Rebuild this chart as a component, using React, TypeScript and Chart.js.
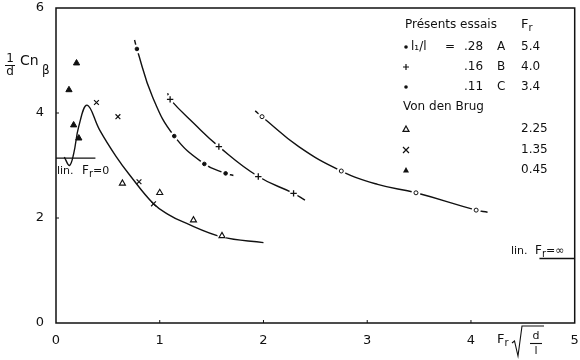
import { useEffect, useRef } from "react";
import { Chart, registerables } from "chart.js";
Chart.register(...registerables);

// ---- data ----
const xTickValues = [0, 1, 2, 3, 4, 5];
const yTickValues = [0, 2, 4, 6];

// Présents essais, A (l1/l = .28, Fr 5.4): open circles
const seriesA = [[1.986, 3.93], [2.75, 2.895], [3.47, 2.48], [4.05, 2.15]];
const curveA = [[1.92, 4.04], [1.986, 3.93], [2.34, 3.36], [2.75, 2.895], [3.1, 2.64], [3.47, 2.48], [4.05, 2.15], [4.16, 2.11]];
// B (l1/l = .16, Fr 4.0): plus
const seriesB = [[1.1, 4.26], [1.57, 3.36], [1.95, 2.79], [2.29, 2.47]];
const curveB = [[1.076, 4.375], [1.1, 4.26], [1.33, 3.8], [1.57, 3.36], [1.95, 2.79], [2.29, 2.47], [2.4, 2.34]];
// C (l1/l = .11, Fr 3.4): dots
const seriesC = [[0.78, 5.22], [1.14, 3.56], [1.43, 3.03], [1.635, 2.85]];
const curveC = [[0.757, 5.39], [0.78, 5.22], [0.93, 4.31], [1.14, 3.56], [1.43, 3.03], [1.635, 2.85], [1.71, 2.81]];
// Van den Brug
const vdbTriOpen = [[0.64, 2.66], [1.0, 2.48], [1.325, 1.96], [1.6, 1.66]]; // Fr 2.25
const vdbCross = [[0.39, 4.2], [0.597, 3.93], [0.8, 2.69], [0.94, 2.27]]; // Fr 1.35
const vdbTriFilled = [[0.125, 4.44], [0.198, 4.95], [0.17, 3.77], [0.22, 3.52]]; // Fr 0.45
const vdbCurve = [[0.08, 3.16], [0.13, 3.0], [0.17, 3.22], [0.22, 3.75], [0.3, 4.15], [0.42, 3.68], [0.58, 3.17], [0.71, 2.82], [0.94, 2.27], [1.08, 2.07], [1.22, 1.93], [1.6, 1.64], [2.0, 1.53]];
const vdbHalo = [[1.6, 1.66]];
// limit lines
const linFr0 = [[0, 3.14], [0.38, 3.14]];
const linFrInf = [[4.66, 1.23], [5.0, 1.23]];

const FONT = "'DejaVu Sans', sans-serif";
const toXY = (arr: number[][]) => arr.map(([x, y]) => ({ x, y }));

function drawMarker(ctx: CanvasRenderingContext2D, kind: string, x: number, y: number) {
  ctx.save();
  ctx.strokeStyle = "#111";
  ctx.fillStyle = "#111";
  ctx.lineWidth = 1.2;
  const r = 3;
  if (kind === "dot") {
    ctx.beginPath(); ctx.arc(x, y, 1.8, 0, Math.PI * 2); ctx.fill();
  } else if (kind === "plus") {
    ctx.beginPath(); ctx.moveTo(x - r, y); ctx.lineTo(x + r, y); ctx.moveTo(x, y - r); ctx.lineTo(x, y + r); ctx.stroke();
  } else if (kind === "cross") {
    ctx.beginPath(); ctx.moveTo(x - r, y - r); ctx.lineTo(x + r, y + r); ctx.moveTo(x + r, y - r); ctx.lineTo(x - r, y + r); ctx.stroke();
  } else if (kind === "tri" || kind === "triF") {
    ctx.beginPath(); ctx.moveTo(x, y - r); ctx.lineTo(x + r, y + r * 0.8); ctx.lineTo(x - r, y + r * 0.8); ctx.closePath();
    if (kind === "triF") ctx.fill(); else ctx.stroke();
  }
  ctx.restore();
}

function drawFr(ctx: CanvasRenderingContext2D, x: number, y: number, size: number) {
  ctx.font = `${size}px ${FONT}`;
  ctx.textAlign = "left";
  ctx.textBaseline = "middle";
  ctx.fillText("F", x, y);
  const w = ctx.measureText("F").width;
  ctx.font = `${Math.round(size * 0.8)}px ${FONT}`;
  ctx.fillText("r", x + w, y + size * 0.25);
  return x + w + ctx.measureText("r").width;
}

const decorPlugin = {
  id: "decor",
  afterDatasetsDraw(chart: any) {
    const ctx: CanvasRenderingContext2D = chart.ctx;
    const { left, right, top, bottom } = chart.chartArea;
    const xs = chart.scales.x;
    const ys = chart.scales.y;
    ctx.save();
    ctx.strokeStyle = "#111";
    ctx.lineWidth = 1.5;
    ctx.strokeRect(left, top, right - left, bottom - top);
    ctx.lineWidth = 1;
    xTickValues.forEach((v) => {
      if (v === 0 || v === 5) return;
      const px = xs.getPixelForValue(v);
      ctx.beginPath(); ctx.moveTo(px, bottom); ctx.lineTo(px, bottom - 3); ctx.stroke();
    });
    yTickValues.forEach((v) => {
      if (v === 0 || v === 6) return;
      const py = ys.getPixelForValue(v);
      ctx.beginPath(); ctx.moveTo(left, py); ctx.lineTo(left + 3, py); ctx.stroke();
    });
    ctx.restore();
  },
  afterDraw(chart: any) {
    const ctx: CanvasRenderingContext2D = chart.ctx;
    ctx.save();
    ctx.fillStyle = "#111";
    ctx.strokeStyle = "#111";
    ctx.textBaseline = "middle";
    ctx.textAlign = "left";

    // y-axis title: 1/d Cn_beta
    ctx.font = `12px ${FONT}`;
    ctx.textAlign = "center";
    ctx.fillText("1", 10, 59);
    ctx.fillText("d", 10, 72);
    ctx.lineWidth = 1;
    ctx.beginPath(); ctx.moveTo(5, 65.5); ctx.lineTo(15, 65.5); ctx.stroke();
    ctx.textAlign = "left";
    ctx.font = `14px ${FONT}`;
    ctx.fillText("Cn", 20, 61);
    ctx.font = `12px ${FONT}`;
    ctx.fillText("β", 42, 71);

    // x-axis title: Fr sqrt(d/l)
    drawFr(ctx, 497, 340, 13);
    ctx.lineWidth = 1.1;
    ctx.beginPath();
    ctx.moveTo(512, 343); ctx.lineTo(514.5, 341); ctx.lineTo(518, 356); ctx.lineTo(522, 326); ctx.lineTo(544, 326);
    ctx.stroke();
    ctx.font = `11px ${FONT}`;
    ctx.textAlign = "center";
    ctx.fillText("d", 536, 336);
    ctx.fillText("l", 536, 351);
    ctx.beginPath(); ctx.moveTo(530, 343.5); ctx.lineTo(542, 343.5); ctx.stroke();

    // limit labels
    ctx.textAlign = "left";
    ctx.font = `11px ${FONT}`;
    ctx.fillText("lin.", 57, 171);
    let ex = drawFr(ctx, 82, 171, 12);
    ctx.font = `11px ${FONT}`;
    ctx.fillText("=0", ex, 171);
    ctx.font = `11px ${FONT}`;
    ctx.fillText("lin.", 511, 251);
    ex = drawFr(ctx, 535, 251, 12);
    ctx.font = `11px ${FONT}`;
    ctx.fillText("=∞", ex, 251);

    // legend
    const f = `12px ${FONT}`;
    ctx.font = f;
    ctx.fillText("Présents essais", 405, 25);
    drawFr(ctx, 521, 25, 13);
    ctx.font = f;
    drawMarker(ctx, "dot", 406, 47);
    ctx.fillText("l₁/l", 411, 47);
    ctx.fillText("=", 445, 47);
    ctx.fillText(".28", 464, 47);
    ctx.fillText("A", 497, 47);
    ctx.fillText("5.4", 521, 47);
    drawMarker(ctx, "plus", 406, 67);
    ctx.fillText(".16", 464, 67);
    ctx.fillText("B", 497, 67);
    ctx.fillText("4.0", 521, 67);
    drawMarker(ctx, "dot", 406, 87);
    ctx.fillText(".11", 464, 87);
    ctx.fillText("C", 497, 87);
    ctx.fillText("3.4", 521, 87);
    ctx.fillText("Von den Brug", 403, 107);
    drawMarker(ctx, "tri", 406, 129);
    ctx.fillText("2.25", 521, 129);
    drawMarker(ctx, "cross", 406, 150);
    ctx.fillText("1.35", 521, 150);
    drawMarker(ctx, "triF", 406, 170);
    ctx.fillText("0.45", 521, 170);
    ctx.restore();
  },
};

export default function App() {
  const ref = useRef<HTMLCanvasElement | null>(null);
  useEffect(() => {
    if (!ref.current) return;
    const curve = (data: number[][], order = 5, tension = 0.45) => ({
      type: "line" as const,
      data: toXY(data),
      borderColor: "#111",
      borderWidth: 1.4,
      pointRadius: 0,
      showLine: true,
      fill: false,
      cubicInterpolationMode: "default" as const,
      tension,
      order,
    });
    const straight = (data: number[][]) => ({
      type: "line" as const,
      data: toXY(data),
      borderColor: "#111",
      borderWidth: 1.4,
      pointRadius: 0,
      showLine: true,
      fill: false,
      tension: 0,
      order: 5,
    });
    const halo = (data: number[][], r = 4.5) => ({
      type: "scatter" as const,
      data: toXY(data),
      pointRadius: r,
      pointBackgroundColor: "#fff",
      pointBorderWidth: 0,
      pointBorderColor: "#fff",
      showLine: false,
      order: 3,
    });
    const marks = (data: number[][], style: string, r: number, fillCol: string, bw = 1.2) => ({
      type: "scatter" as const,
      data: toXY(data),
      pointStyle: style,
      pointRadius: r,
      pointBackgroundColor: fillCol,
      pointBorderColor: "#111",
      pointBorderWidth: bw,
      showLine: false,
      order: 1,
    });
    const chart = new Chart(ref.current, {
      type: "scatter",
      data: {
        datasets: [
          curve(curveA),
          curve(curveB),
          curve(curveC),
          curve(vdbCurve, 5, 0.4),
          straight(linFr0),
          straight(linFrInf),
          halo(seriesA),
          halo(seriesB),
          halo(seriesC),
          halo(vdbHalo),
          marks(seriesA, "circle", 2, "#fff", 1),
          marks(seriesB, "cross", 3.2, "#111", 1.3),
          marks(seriesC, "circle", 1.8, "#111", 1),
          marks(vdbTriOpen, "triangle", 3.5, "#fff", 1.1),
          marks(vdbCross, "crossRot", 3.4, "#111", 1.2),
          marks(vdbTriFilled, "triangle", 3.6, "#111", 1),
        ] as any,
      },
      options: {
        animation: false,
        responsive: false,
        maintainAspectRatio: false,
        layout: { padding: { top: 8, right: 2, left: 0, bottom: 0 } },
        plugins: { legend: { display: false }, tooltip: { enabled: false } },
        scales: {
          x: {
            type: "linear",
            min: 0,
            max: 5,
            border: { display: false },
            grid: { display: false, drawTicks: false },
            ticks: {
              stepSize: 1,
              padding: 10,
              color: "#111",
              font: { family: FONT, size: 13 },
              callback: (v: any) => (xTickValues.includes(Number(v)) ? String(v) : ""),
            },
            afterFit: (s: any) => {
              s.height = 37;
              s.paddingLeft = 0;
              s.paddingRight = 0;
            },
          },
          y: {
            type: "linear",
            min: 0,
            max: 6,
            border: { display: false },
            grid: { display: false, drawTicks: false },
            ticks: {
              stepSize: 2,
              padding: 12,
              color: "#111",
              font: { family: FONT, size: 13 },
              callback: (v: any) => (yTickValues.includes(Number(v)) ? String(v) : ""),
            },
            afterFit: (s: any) => {
              s.width = 56;
              s.paddingTop = 0;
              s.paddingBottom = 0;
            },
          },
        },
      } as any,
      plugins: [decorPlugin],
    });
    return () => chart.destroy();
  }, []);
  return (
    <div style={{ position: "absolute", left: 0, top: 0, width: 580, height: 360, background: "#fff" }}>
      <canvas ref={ref} width={580} height={360} style={{ width: 580, height: 360 }} />
    </div>
  );
}
